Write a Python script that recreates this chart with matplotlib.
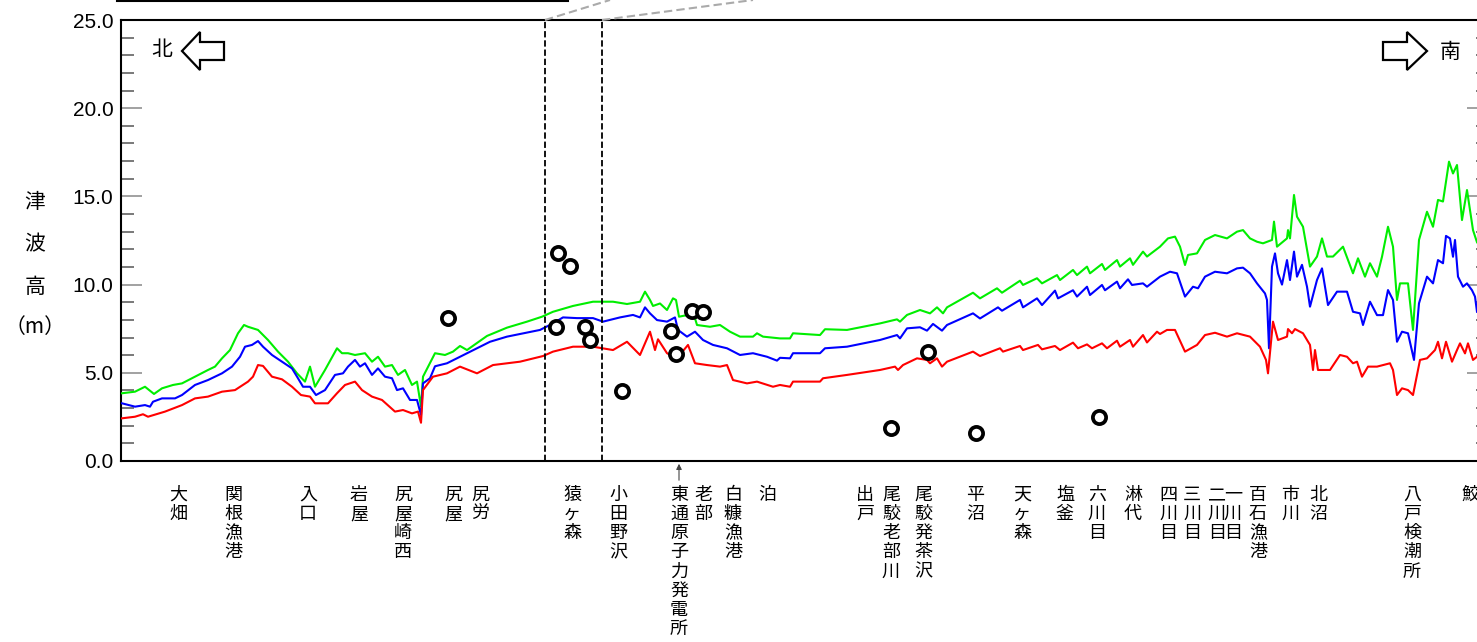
import numpy as np
import matplotlib
matplotlib.use("Agg")
import matplotlib.pyplot as plt
from matplotlib.ticker import MultipleLocator
from matplotlib.lines import Line2D
from matplotlib.patches import Polygon

plt.rcParams['font.family'] = ['Noto Sans CJK JP', 'DejaVu Sans']

# ---------------- data (distance along coast in plot units, tsunami height in m) -------------
green_x = [1, 14, 24, 33, 41, 52, 61, 74, 87, 94, 101, 109, 117, 123, 127, 137, 147, 157, 167, 176,
           184, 189, 194, 204, 216, 221, 227, 234, 244, 251, 257, 264, 271, 277, 284, 291, 296, 300,
           302, 314, 324, 332, 339, 346, 366, 386, 406, 421, 432, 452, 472, 492, 506, 519, 524, 529,
           532, 539, 546, 552, 555, 558, 566, 572, 576, 589, 599, 609, 619, 632, 636, 642,
           659, 669, 672, 699, 704, 726, 759, 776, 779, 786, 799, 809, 816, 822, 826, 852, 859, 876,
           881, 899, 902, 916, 921, 936, 939, 952, 956, 966, 969, 981, 984, 996, 999, 1009, 1012,
           1022, 1026,
           1039, 1047, 1054, 1059, 1064, 1067, 1076, 1084, 1094, 1106, 1116, 1122, 1129, 1136, 1142,
           1151, 1153, 1156, 1166, 1167, 1169, 1173, 1176, 1182, 1189, 1196, 1201, 1206, 1212, 1222,
           1232, 1237, 1244, 1249, 1256, 1261, 1267, 1272, 1276, 1279, 1287, 1292, 1298, 1306, 1312,
           1317, 1322, 1328, 1332, 1336, 1341, 1346, 1352, 1356]
green_h = [3.84, 3.93, 4.21, 3.80, 4.12, 4.31, 4.40, 4.78, 5.16, 5.35, 5.82, 6.29, 7.24, 7.71, 7.61,
           7.43, 6.86, 6.20, 5.63, 4.97, 4.50, 5.35, 4.21, 5.16, 6.39, 6.11, 6.11, 6.01, 6.11, 5.63,
           5.91, 5.35, 5.44, 4.88, 5.16, 4.31, 4.50, 3.08,
           4.78, 6.11, 6.01, 6.20, 6.52, 6.29, 7.09, 7.56, 7.90, 8.18, 8.46, 8.79, 9.03, 9.03, 8.90,
           9.03, 9.60, 9.13, 8.79, 8.93, 8.56, 9.22, 9.13, 8.18, 8.27, 8.46, 7.71, 7.61, 7.71, 7.33,
           7.05, 7.05, 7.24, 7.05,
           6.95, 6.95, 7.24, 7.14, 7.47, 7.43, 7.80, 8.03, 7.90, 8.28, 8.56, 8.37, 8.71, 8.37, 8.71,
           9.54, 9.22, 9.79, 9.54, 10.22, 9.98, 10.36, 10.07, 10.54, 10.26, 10.83, 10.54, 11.02,
           10.64, 11.17, 10.83, 11.39, 11.02, 11.49, 11.12, 11.87, 11.59,
           12.15, 12.62, 12.72, 12.15, 11.11, 11.68, 11.77, 12.53, 12.81, 12.62, 13.00, 13.09, 12.62,
           12.43, 12.34, 12.53, 13.57, 12.15, 12.62, 13.09, 12.62, 15.08, 13.85, 13.28, 11.02, 11.59,
           12.62, 11.59, 11.59, 12.15, 10.64, 11.49, 10.45, 11.21, 10.45, 11.58, 13.28, 12.15, 9.13,
           10.07, 10.07, 7.43, 12.53, 14.13, 13.28, 14.80, 14.71, 16.97, 16.30, 16.78, 13.66, 15.36,
           13.09, 12.40]

blue_x = [1, 14, 24, 29, 32, 41, 54, 61, 74, 87, 101, 111, 119, 124, 131, 137, 142, 151, 161, 171,
          177, 182, 189, 195, 204, 214, 222, 227, 234, 239, 244, 251, 257, 264, 271, 276, 282, 289,
          296, 300,
          302, 309, 314, 326, 339, 356, 369, 386, 399, 419, 432, 442, 456, 472, 482, 499, 512, 519,
          524, 529, 536, 546, 554, 557, 566, 574, 582, 592, 606, 619, 632, 646, 656,
          659, 669, 672, 699, 704, 726, 759, 776, 779, 786, 799, 806, 812, 821, 826, 852, 859, 877,
          881, 899, 902, 916, 921, 934, 937, 952, 956, 966, 969, 981, 984, 996, 999, 1007, 1011,
          1022, 1026,
          1039, 1049, 1056, 1064, 1072, 1077, 1084, 1094, 1106, 1116, 1122, 1129, 1136, 1144, 1146,
          1148, 1151, 1154, 1157, 1161, 1166, 1169, 1173, 1176, 1181, 1186, 1189, 1196, 1201, 1207,
          1216, 1226, 1232, 1239, 1242, 1249, 1256, 1262, 1267, 1272, 1276, 1281, 1287, 1293, 1298,
          1306, 1312, 1317, 1322, 1325, 1329, 1332, 1334, 1337, 1342, 1346, 1351, 1354, 1356]
blue_h = [3.27, 3.08, 3.17, 3.08, 3.36, 3.55, 3.55, 3.74, 4.31, 4.59, 4.97, 5.35, 5.91, 6.48, 6.58,
          6.80, 6.48, 6.01, 5.63, 5.25, 4.69, 4.21, 4.21, 3.74, 4.02, 4.88, 4.97, 5.35, 5.73, 5.35,
          5.54, 4.88, 5.25, 4.78, 4.69, 4.02, 4.12, 3.46, 3.46, 2.61,
          4.40, 4.69, 5.37, 5.54, 5.91, 6.39, 6.76, 7.05, 7.20, 7.43, 7.80, 8.14, 8.10, 8.10, 7.90,
          8.14, 8.28, 8.14, 8.71, 8.37, 7.99, 7.90, 8.14, 7.43, 7.05, 7.33, 6.86, 6.58, 6.39, 6.01,
          6.11, 5.91, 5.69,
          5.85, 5.82, 6.11, 6.11, 6.39, 6.48, 6.86, 7.14, 6.95, 7.52, 7.58, 7.39, 7.77, 7.39, 7.71,
          8.37, 8.08, 8.71, 8.52, 9.13, 8.71, 9.22, 8.84, 9.66, 9.22, 9.68, 9.32, 9.88, 9.41, 9.98,
          9.68, 10.17, 9.79, 10.30, 9.98, 10.07, 9.88,
          10.45, 10.73, 10.64, 9.32, 9.88, 9.79, 10.45, 10.73, 10.64, 10.92, 10.96, 10.64, 10.07,
          9.50, 9.13, 6.39, 11.02, 11.77, 10.64, 10.00, 11.39, 10.26, 11.87, 10.45, 11.12, 9.88,
          8.75, 10.26, 10.92, 8.84, 9.60, 9.60, 8.46, 8.37, 7.71, 9.03, 8.27, 8.27, 9.69, 9.13,
          6.76, 7.33, 7.24, 5.73, 8.94, 10.45, 10.07, 11.39, 11.21, 12.76, 12.62, 11.58, 12.53,
          10.45, 9.88, 10.07, 9.68, 9.32, 8.46]

red_x = [1, 14, 22, 27, 44, 61, 74, 87, 101, 114, 127, 132, 137, 142, 151, 161, 171, 180, 189, 194,
         207, 216, 224, 234, 241, 251, 261, 274, 282, 291, 297, 300,
         302, 312, 326, 339, 356, 372, 399, 422, 432, 452, 472, 492, 506, 519, 529, 534, 537, 546,
         556, 567, 574, 586, 599, 606, 612, 626, 636, 652,
         659, 669, 672, 699, 702, 726, 759, 774, 777, 782, 796, 806, 809, 816, 821, 826, 852, 859,
         879, 882, 899, 902, 917, 921, 934, 939, 952, 957, 966, 971, 981, 986, 996, 999, 1009, 1012,
         1022, 1026, 1036,
         1039, 1046, 1054, 1064, 1076, 1084, 1094, 1106, 1116, 1129, 1139, 1145, 1147, 1152, 1157,
         1166, 1167, 1171, 1174, 1182, 1189, 1192, 1194, 1197, 1209, 1219, 1226, 1232, 1236, 1241,
         1247, 1256, 1269, 1272, 1276, 1281, 1287, 1292, 1299, 1306, 1314, 1317, 1321, 1325, 1331,
         1336, 1339, 1344, 1347, 1352, 1356]
red_h = [2.42, 2.51, 2.65, 2.51, 2.80, 3.17, 3.55, 3.65, 3.93, 4.02, 4.50, 4.78, 5.44, 5.39, 4.78,
         4.63, 4.21, 3.74, 3.65, 3.27, 3.27, 3.84, 4.31, 4.50, 4.02, 3.65, 3.46, 2.80, 2.89, 2.70,
         2.80, 2.17,
         4.02, 4.78, 4.97, 5.35, 4.97, 5.44, 5.63, 5.95, 6.20, 6.48, 6.48, 6.29, 6.76, 6.01, 7.33,
         6.29, 6.90, 6.11, 5.82, 6.58, 5.54, 5.44, 5.35, 5.44, 4.59, 4.40, 4.50, 4.21,
         4.31, 4.21, 4.50, 4.50, 4.69, 4.88, 5.16, 5.35, 5.16, 5.44, 5.82, 5.73, 5.54, 5.82, 5.35,
         5.63, 6.20, 5.95, 6.39, 6.20, 6.52, 6.29, 6.58, 6.33, 6.52, 6.29, 6.71, 6.39, 6.61, 6.39,
         6.67, 6.39, 6.82, 6.48, 6.86, 6.48, 7.14, 6.72, 7.33,
         7.20, 7.43, 7.43, 6.20, 6.58, 7.14, 7.27, 7.05, 7.24, 7.05, 6.48, 5.73, 4.97, 7.90, 6.86,
         7.05, 7.48, 7.24, 7.48, 7.24, 6.58, 5.16, 6.29, 5.16, 5.16, 6.01, 5.91, 5.54, 5.63, 4.78,
         5.35, 5.35, 5.54, 5.16, 3.74, 4.12, 4.02, 3.74, 5.73, 5.82, 6.29, 6.76, 5.82, 6.76, 5.63,
         6.29, 6.67, 6.10, 6.67, 5.73, 5.91]

obs_x = [327, 437, 449, 435, 464, 469, 501, 550, 555, 571, 582, 770, 807, 855, 978]
obs_h = [8.11, 11.77, 11.05, 7.61, 7.58, 6.86, 3.97, 7.39, 6.07, 8.50, 8.47, 1.89, 6.16, 1.61, 2.48]

place_names = ['大畑', '関根漁港', '入口', '岩屋', '尻屋崎西', '尻屋', '尻労', '猿ヶ森', '小田野沢',
               '東通原子力発電所', '老部', '白糠漁港', '泊', '出戸', '尾駮老部川', '尾駮発茶沢', '平沼',
               '天ヶ森', '塩釜', '六川目', '淋代', '四川目', '三川目', '二川目', '一川目', '百石漁港',
               '市川', '北沼', '八戸検潮所', '鮫']
place_x = [57, 112, 187, 238, 282, 332, 359, 451, 497, 558, 582, 612, 646, 744, 770, 802, 854,
           901, 944, 976, 1012, 1047, 1071, 1096, 1112, 1137, 1169, 1197, 1291, 1349]

section_x = [424, 481]        # dashed section boundaries
plant_x = 558                  # 東通原子力発電所 location

y_ticks = [0, 5, 10, 15, 20, 25]
x_max = 1367

# ---------------- figure -------------
W, H = 1477, 642
fig = plt.figure(figsize=(W / 100, H / 100), dpi=100)
ax = fig.add_axes([121 / W, (H - 461) / H, 1367 / W, 441 / H])
ax.set_xlim(0, x_max)
ax.set_ylim(0, 25)

ax.plot(green_x, green_h, color='#00ee00', lw=1.5, zorder=3)
ax.plot(blue_x, blue_h, color='#0000ff', lw=1.5, zorder=3)
ax.plot(red_x, red_h, color='#ff0000', lw=1.5, zorder=3)
ax.plot(obs_x, obs_h, ls='none', marker='o', ms=9.5, mfc='white', mec='black', mew=2.7, zorder=5)

for sx in section_x:
    ax.axvline(sx, color='black', lw=1.3, dashes=(3.5, 1.6), zorder=4)

# spines
for s in ['left', 'bottom', 'top', 'right']:
    ax.spines[s].set_linewidth(1.5)
    ax.spines[s].set_color('black')

# y ticks
ax.set_yticks(y_ticks)
ax.set_yticklabels([f"{v:.1f}" for v in y_ticks], family=['Liberation Sans', 'DejaVu Sans'])
ax.yaxis.set_minor_locator(MultipleLocator(1))
ax.tick_params(axis='y', which='major', direction='in', length=15, width=1.3, color='#9a9a9a',
               labelsize=15, pad=5.5, right=True)
ax.tick_params(axis='y', which='minor', direction='in', length=9, width=1.1, color='#555555',
               right=True)

# x tick labels: place names written vertically
ax.set_xticks(place_x)
ax.set_xticklabels(["\n".join(n) for n in place_names], fontsize=13, linespacing=1.08)
ax.tick_params(axis='x', which='both', length=0, pad=18)
for lab in ax.get_xticklabels():
    lab.set_verticalalignment('top')

# plant arrow
ax.annotate('', xy=(plant_x, 0), xycoords=('data', 'axes fraction'),
            xytext=(plant_x, -22 / 441), textcoords=('data', 'axes fraction'),
            arrowprops=dict(arrowstyle='-|>', color='#444444', lw=0.8, mutation_scale=8),
            annotation_clip=False)

# y label (vertical)
def F(x, y):
    return (x / W, 1 - y / H)

for ch, yy in zip(['津', '波', '高', '（m）'], [202, 244, 287, 327]):
    fig.text(*F(35, yy), ch, fontsize=15, ha='center', va='center')

# direction arrows
left_arrow = [(182, 51), (200, 32), (200, 42), (224, 42), (224, 60), (200, 60), (200, 70)]
right_arrow = [(1427, 51), (1407, 32), (1407, 42), (1383, 42), (1383, 60), (1407, 60), (1407, 70)]
for pts in (left_arrow, right_arrow):
    fig.add_artist(Polygon([F(*p) for p in pts], closed=True, transform=fig.transFigure,
                           facecolor='white', edgecolor='black', lw=1.6, joinstyle='miter'))
fig.text(*F(162, 50), '北', fontsize=15, ha='center', va='center')
fig.text(*F(1450, 52), '南', fontsize=15, ha='center', va='center')

# connectors to inset above (cropped)
fig.add_artist(Line2D([117 / W, 568 / W], [1 - 1 / H, 1 - 1 / H], transform=fig.transFigure,
                      color='black', lw=1.5))
for (x0, x1) in [(545, 610), (602, 753)]:
    fig.add_artist(Line2D([x0 / W, x1 / W], [1 - 20 / H, 1.0], transform=fig.transFigure,
                          color='#aaaaaa', lw=1.5, dashes=(4, 2)))

fig.savefig('out.png', dpi=100, facecolor='white')
